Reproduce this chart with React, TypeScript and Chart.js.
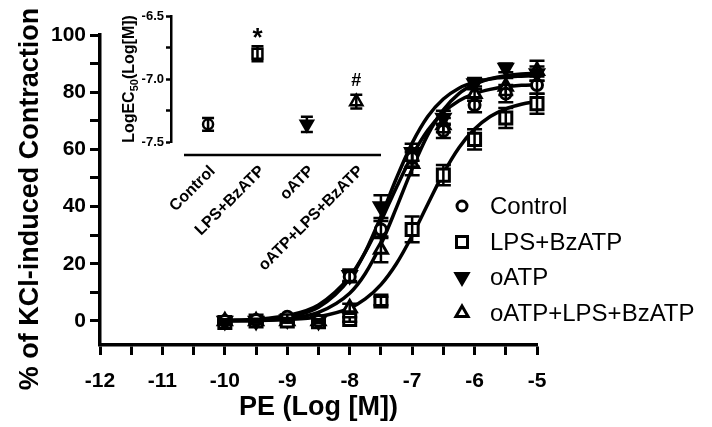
import React, { useEffect, useRef } from 'react';
import { Chart, registerables } from 'chart.js';

Chart.register(...registerables);

const FONT = "'Liberation Sans', Arial, Helvetica, sans-serif";

// ---------- main chart data ----------
const DOSES = [-10, -9.5, -9, -8.5, -8, -7.5, -7, -6.5, -6, -5.5, -5];
const CONTROL = [0, 0.3, 1.5, 0, 15.5, 32, 57, 66.5, 75.5, 79.5, 82.5];
const CONTROL_SEM = [0.5, 0.5, 0.8, 0.5, 2, 3, 3, 2.5, 2.5, 3, 3];
const LPS_BZATP = [-0.5, 0, 0, -0.3, 0.5, 7, 32, 51, 63.5, 71, 76];
const LPS_BZATP_SEM = [0.5, 0.5, 0.5, 0.5, 0.8, 1.5, 4.5, 3.5, 3.5, 3.5, 3.5];
const OATP = [0, 0, 0.5, 0, 16, 40, 59, 71, 83, 88.5, 86.5];
const OATP_SEM = [0.5, 0.5, 0.5, 0.5, 2, 4, 3, 2.5, 2, 1.5, 2.5];
const OATP_LPS_BZATP = [0, 0, 0, 0, 4.5, 25, 55, 68.5, 79.5, 82, 87.5];
const OATP_LPS_BZATP_SEM = [0.5, 0.5, 0.5, 0.5, 1.5, 4.5, 4, 2.5, 2.5, 3, 3.5];

// fitted curves
const CURVE_X = [-10, -9.5, -9, -8.5, -8, -7.75, -7.5, -7.25, -7, -6.75, -6.5, -6.25, -6, -5.75, -5.5, -5.25, -5];
const CONTROL_FIT = [0.2, 0.6, 1.9, 5.6, 15.5, 24.1, 34.9, 46.8, 57.8, 66.7, 72.9, 77.0, 79.5, 81.0, 81.9, 82.4, 82.6];
const LPS_BZATP_FIT = [0.05, 0.15, 0.5, 1.5, 4.5, 7.7, 12.7, 20.1, 29.8, 40.8, 51.6, 60.6, 67.1, 71.5, 74.2, 75.8, 76.8];
const OATP_FIT = [0.1, 0.4, 1.4, 4.8, 14.8, 24.2, 36.5, 50.0, 62.2, 71.5, 77.6, 81.4, 83.5, 84.6, 85.3, 85.6, 85.8];
const OATP_LPS_BZATP_FIT = [0.1, 0.2, 0.9, 3.0, 9.7, 16.6, 26.8, 39.7, 53.2, 65.1, 73.8, 79.5, 82.8, 84.7, 85.8, 86.4, 86.6];

const SERIES_NAMES = ['Control', 'LPS+BzATP', 'oATP', 'oATP+LPS+BzATP'];
const X_TICKS = [-12, -11.5, -11, -10.5, -10, -9.5, -9, -8.5, -8, -7.5, -7, -6.5, -6, -5.5, -5];
const Y_TICKS = [0, 10, 20, 30, 40, 50, 60, 70, 80, 90, 100];
const X_TITLE = 'PE (Log [M])';
const Y_TITLE = '% of KCl-induced Contraction';

// ---------- inset data ----------
const INSET_GROUPS = ['Control', 'LPS+BzATP', 'oATP', 'oATP+LPS+BzATP'];
const INSET_LOGEC50 = [-7.36, -6.8, -7.36, -7.18];
const INSET_SEM = [0.05, 0.06, 0.06, 0.055];
const INSET_MARKS = ['', '*', '', '#'];
const INSET_TICKS = [-7.5, -7.25, -7.0, -6.75, -6.5];

type Marker = 'circle' | 'rect' | 'triUp' | 'triDown';

const SERIES = [
  { name: SERIES_NAMES[0], mean: CONTROL, sem: CONTROL_SEM, fit: CONTROL_FIT, marker: 'circle' as Marker, filled: false },
  { name: SERIES_NAMES[1], mean: LPS_BZATP, sem: LPS_BZATP_SEM, fit: LPS_BZATP_FIT, marker: 'rect' as Marker, filled: false },
  { name: SERIES_NAMES[2], mean: OATP, sem: OATP_SEM, fit: OATP_FIT, marker: 'triDown' as Marker, filled: true },
  { name: SERIES_NAMES[3], mean: OATP_LPS_BZATP, sem: OATP_LPS_BZATP_SEM, fit: OATP_LPS_BZATP_FIT, marker: 'triUp' as Marker, filled: false },
];

const INSET_MARKERS: Marker[] = ['circle', 'rect', 'triDown', 'triUp'];
const INSET_FILLED = [false, false, true, false];

function chartStyle(m: Marker) {
  return m === 'circle' ? 'circle' : m === 'rect' ? 'rect' : 'triangle';
}

function drawMarker(ctx: CanvasRenderingContext2D, m: Marker, x: number, y: number, r: number, filled: boolean, lw: number) {
  ctx.save();
  ctx.beginPath();
  if (m === 'circle') {
    ctx.arc(x, y, r, 0, Math.PI * 2);
  } else if (m === 'rect') {
    ctx.rect(x - r, y - r, 2 * r, 2 * r);
  } else if (m === 'triUp') {
    ctx.moveTo(x, y - r);
    ctx.lineTo(x + r * 0.866, y + r * 0.5);
    ctx.lineTo(x - r * 0.866, y + r * 0.5);
    ctx.closePath();
  } else {
    ctx.moveTo(x, y + r);
    ctx.lineTo(x + r * 0.866, y - r * 0.5);
    ctx.lineTo(x - r * 0.866, y - r * 0.5);
    ctx.closePath();
  }
  ctx.fillStyle = filled ? '#000' : '#fff';
  ctx.strokeStyle = '#000';
  ctx.lineWidth = lw;
  ctx.fill();
  ctx.stroke();
  ctx.restore();
}

function drawErrorBar(ctx: CanvasRenderingContext2D, x: number, y1: number, y2: number, cap: number, lw: number) {
  ctx.save();
  ctx.strokeStyle = '#000';
  ctx.lineWidth = lw;
  ctx.beginPath();
  ctx.moveTo(x, y1);
  ctx.lineTo(x, y2);
  ctx.moveTo(x - cap / 2, y1);
  ctx.lineTo(x + cap / 2, y1);
  ctx.moveTo(x - cap / 2, y2);
  ctx.lineTo(x + cap / 2, y2);
  ctx.stroke();
  ctx.restore();
}

const mainPlugin = {
  id: 'mainExtras',
  afterDatasetsDraw(chart: any) {
    const ctx = chart.ctx;
    const xs = chart.scales.x;
    const ys = chart.scales.y;
    SERIES.forEach((s) => {
      DOSES.forEach((d, i) => {
        const px = xs.getPixelForValue(d);
        const top = ys.getPixelForValue(s.mean[i] + s.sem[i]);
        const bot = ys.getPixelForValue(s.mean[i] - s.sem[i]);
        drawErrorBar(ctx, px, top, bot, 15, 2.5);
      });
    });
  },
  afterDraw(chart: any) {
    const ctx = chart.ctx;
    // y-axis title
    ctx.save();
    ctx.fillStyle = '#000';
    ctx.font = `bold 27px ${FONT}`;
    ctx.translate(31, 199);
    ctx.rotate(-Math.PI / 2);
    ctx.textAlign = 'center';
    ctx.textBaseline = 'middle';
    ctx.fillText(Y_TITLE, 0, 0);
    ctx.restore();
    // legend
    const legendY = [206, 242, 277, 313];
    SERIES.forEach((s, i) => {
      const r = s.marker === 'circle' ? 5 : s.marker === 'rect' ? 5.5 : 7;
      drawMarker(ctx, s.marker, 462, legendY[i], r, s.filled, 3);
      ctx.save();
      ctx.fillStyle = '#000';
      ctx.font = `24px ${FONT}`;
      ctx.textAlign = 'left';
      ctx.textBaseline = 'middle';
      ctx.fillText(s.name, 490, legendY[i] + 1);
      ctx.restore();
    });
  },
};

const insetPlugin = {
  id: 'insetExtras',
  afterDatasetsDraw(chart: any) {
    const ctx = chart.ctx;
    const xs = chart.scales.x;
    const ys = chart.scales.y;
    INSET_LOGEC50.forEach((v, i) => {
      const px = xs.getPixelForValue(i);
      drawErrorBar(ctx, px, ys.getPixelForValue(v + INSET_SEM[i]), ys.getPixelForValue(v - INSET_SEM[i]), 12, 2.5);
    });
  },
  afterDraw(chart: any) {
    const ctx = chart.ctx;
    const xs = chart.scales.x;
    const ys = chart.scales.y;
    const area = chart.chartArea;
    // detached category axis line
    ctx.save();
    ctx.strokeStyle = '#000';
    ctx.lineWidth = 2.5;
    ctx.beginPath();
    ctx.moveTo(area.left + 13, area.bottom + 13);
    ctx.lineTo(area.right, area.bottom + 13);
    ctx.stroke();
    ctx.restore();
    // rotated category labels
    INSET_GROUPS.forEach((g, i) => {
      const px = xs.getPixelForValue(i);
      ctx.save();
      ctx.translate(px - 1, area.bottom + 21);
      ctx.rotate(-Math.PI / 4);
      ctx.fillStyle = '#000';
      ctx.font = `bold 16px ${FONT}`;
      ctx.textAlign = 'right';
      ctx.textBaseline = 'top';
      ctx.fillText(g, 0, 0);
      ctx.restore();
    });
    // significance marks
    INSET_MARKS.forEach((mk, i) => {
      if (!mk) return;
      const px = xs.getPixelForValue(i);
      const top = ys.getPixelForValue(INSET_LOGEC50[i] + INSET_SEM[i]);
      ctx.save();
      ctx.fillStyle = '#000';
      ctx.textAlign = 'center';
      ctx.textBaseline = 'alphabetic';
      if (mk === '*') {
        ctx.font = `bold 26px ${FONT}`;
        ctx.fillText(mk, px, top);
      } else {
        ctx.font = `bold 18px ${FONT}`;
        ctx.fillText(mk, px, top - 9);
      }
      ctx.restore();
    });
    // y title with subscript
    const main = 'LogEC';
    const sub = '50';
    const rest = '(Log[M])';
    ctx.save();
    ctx.fillStyle = '#000';
    ctx.font = `bold 16px ${FONT}`;
    const w1 = ctx.measureText(main).width;
    const w3 = ctx.measureText(rest).width;
    ctx.font = `bold 11px ${FONT}`;
    const w2 = ctx.measureText(sub).width;
    const total = w1 + w2 + w3;
    ctx.translate(128, (area.top + area.bottom) / 2);
    ctx.rotate(-Math.PI / 2);
    ctx.textBaseline = 'alphabetic';
    ctx.textAlign = 'left';
    let x = -total / 2;
    ctx.font = `bold 16px ${FONT}`;
    ctx.fillText(main, x, 6);
    x += w1;
    ctx.font = `bold 11px ${FONT}`;
    ctx.fillText(sub, x, 10);
    x += w2;
    ctx.font = `bold 16px ${FONT}`;
    ctx.fillText(rest, x, 6);
    ctx.restore();
  },
};

function mainConfig(): any {
  const fits = SERIES.map((s) => ({
    label: s.name + ' fit',
    data: CURVE_X.map((x, i) => ({ x, y: s.fit[i] })),
    showLine: true,
    pointRadius: 0,
    borderColor: '#000',
    borderWidth: 3.5,
    cubicInterpolationMode: 'monotone',
    fill: false,
    order: 2,
    clip: false,
  }));
  const points = SERIES.map((s) => ({
    label: s.name,
    data: DOSES.map((x, i) => ({ x, y: s.mean[i] })),
    showLine: false,
    pointStyle: chartStyle(s.marker),
    pointRotation: s.marker === 'triDown' ? 180 : 0,
    pointRadius: s.marker === 'circle' ? 5.5 : s.marker === 'rect' ? 8.5 : 7.5,
    backgroundColor: s.filled ? '#000' : '#fff',
    borderColor: '#000',
    borderWidth: 3,
    order: 1,
    clip: false,
  }));
  return {
    type: 'scatter',
    data: { datasets: [...fits, ...points] },
    options: {
      responsive: false,
      animation: false,
      events: [],
      layout: { padding: { left: 0, top: 35, right: 175, bottom: 0 } },
      plugins: { legend: { display: false }, tooltip: { enabled: false } },
      scales: {
        x: {
          type: 'linear',
          min: -12,
          max: -5,
          afterBuildTicks: (s: any) => {
            s.ticks = X_TICKS.map((v) => ({ value: v }));
          },
          afterFit: (s: any) => {
            s.height = 82;
          },
          ticks: {
            autoSkip: false,
            maxRotation: 0,
            minRotation: 0,
            color: '#000',
            padding: 14,
            font: { family: FONT, size: 21, weight: 'bold' },
            callback: (v: number) => (Number.isInteger(v) ? String(v) : ''),
          },
          grid: { drawOnChartArea: false, drawTicks: true, tickLength: 10, tickWidth: 3, tickColor: '#000' },
          border: { display: true, color: '#000', width: 3.5 },
          title: {
            display: true,
            text: X_TITLE,
            color: '#000',
            font: { family: FONT, size: 27, weight: 'bold' },
            padding: { top: 0, bottom: 3 },
          },
        },
        y: {
          type: 'linear',
          min: -8.4,
          max: 100,
          afterBuildTicks: (s: any) => {
            s.ticks = Y_TICKS.map((v) => ({ value: v }));
          },
          afterFit: (s: any) => {
            s.width = 100;
          },
          ticks: {
            color: '#000',
            padding: 4,
            font: { family: FONT, size: 21, weight: 'bold' },
            callback: (v: number) => (v % 20 === 0 ? String(v) : ''),
          },
          grid: { drawOnChartArea: false, drawTicks: true, tickLength: 10, tickWidth: 3, tickColor: '#000' },
          border: { display: true, color: '#000', width: 3.5 },
          title: { display: false },
        },
      },
    },
    plugins: [mainPlugin],
  };
}

function insetConfig(): any {
  return {
    type: 'scatter',
    data: {
      datasets: [
        {
          label: 'LogEC50',
          data: INSET_LOGEC50.map((v, i) => ({ x: i, y: v })),
          showLine: false,
          pointStyle: INSET_MARKERS.map(chartStyle),
          pointRotation: INSET_MARKERS.map((m) => (m === 'triDown' ? 180 : 0)),
          pointRadius: INSET_MARKERS.map((m) => (m === 'circle' ? 5 : m === 'rect' ? 7 : 7)),
          backgroundColor: INSET_FILLED.map((f) => (f ? '#000' : '#fff')),
          borderColor: '#000',
          borderWidth: 2.5,
          clip: false,
        },
      ],
    },
    options: {
      responsive: false,
      animation: false,
      events: [],
      layout: { padding: { left: 111, top: 16, right: 331, bottom: 285 } },
      plugins: { legend: { display: false }, tooltip: { enabled: false } },
      scales: {
        x: { type: 'linear', display: false, min: -0.75, max: 3.5 },
        y: {
          type: 'linear',
          min: -7.5,
          max: -6.5,
          afterBuildTicks: (s: any) => {
            s.ticks = INSET_TICKS.map((v) => ({ value: v }));
          },
          afterFit: (s: any) => {
            s.width = 60;
          },
          ticks: {
            color: '#000',
            padding: 2,
            font: { family: FONT, size: 13, weight: 'bold' },
            callback: (v: number) => (Math.round(v * 100) % 50 === 0 ? v.toFixed(1) : ''),
          },
          grid: { drawOnChartArea: false, drawTicks: true, tickLength: 5, tickWidth: 2.5, tickColor: '#000' },
          border: { display: true, color: '#000', width: 2.5 },
        },
      },
    },
    plugins: [insetPlugin],
  };
}

export default function App() {
  const mainRef = useRef<HTMLCanvasElement>(null);
  const insetRef = useRef<HTMLCanvasElement>(null);

  useEffect(() => {
    if (!mainRef.current || !insetRef.current) return;
    const main = new Chart(mainRef.current, mainConfig());
    const inset = new Chart(insetRef.current, insetConfig());
    return () => {
      main.destroy();
      inset.destroy();
    };
  }, []);

  return (
    <div style={{ position: 'fixed', left: 0, top: 0, width: 712, height: 427, background: '#fff' }}>
      <canvas ref={mainRef} width={712} height={427} style={{ position: 'absolute', left: 0, top: 0 }} />
      <canvas ref={insetRef} width={712} height={427} style={{ position: 'absolute', left: 0, top: 0 }} />
    </div>
  );
}
